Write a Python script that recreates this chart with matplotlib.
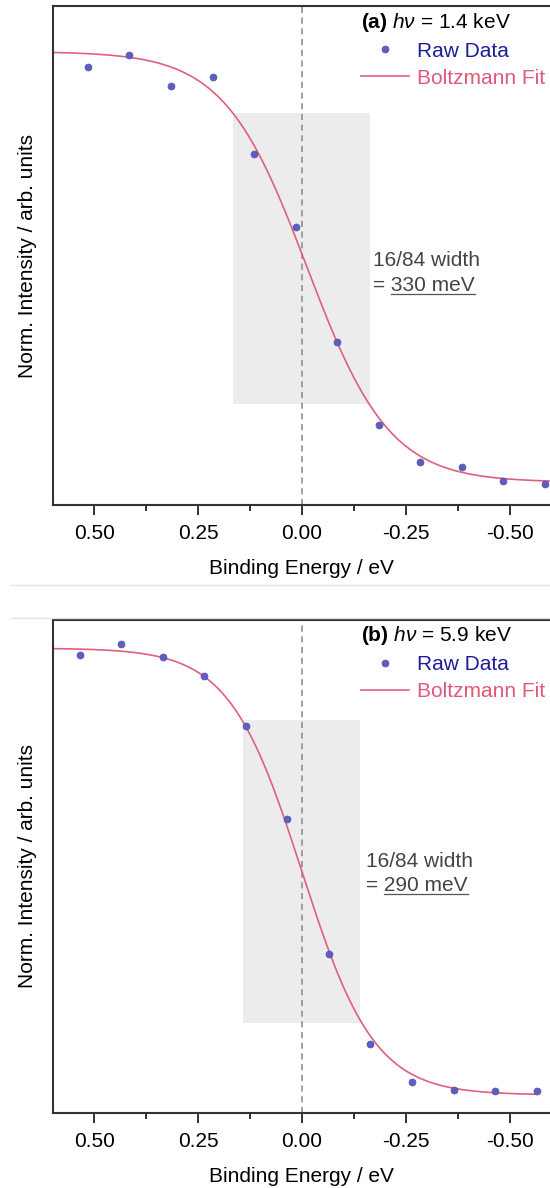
import numpy as np
import matplotlib
matplotlib.use('Agg')
import matplotlib.pyplot as plt
from matplotlib.lines import Line2D

plt.rcParams['font.family'] = ['Liberation Sans', 'DejaVu Sans']
plt.rcParams['mathtext.fontset'] = 'custom'
plt.rcParams['mathtext.rm'] = 'Liberation Sans'
plt.rcParams['mathtext.it'] = 'Liberation Sans:italic'
plt.rcParams['mathtext.bf'] = 'Liberation Sans:bold'

# panel (a): hv = 1.4 keV
energy_a = [0.515, 0.415, 0.315, 0.215, 0.115, 0.015, -0.085, -0.185, -0.285, -0.385, -0.485, -0.585]
intensity_a = [0.964, 0.992, 0.921, 0.942, 0.762, 0.592, 0.326, 0.133, 0.046, 0.036, 0.004, -0.005]
fit_a = [1.0, 0.0, -0.012, 0.0995]          # A1, A2, x0, dx
box_a = [0.165, -0.165, 0.182, 0.858]       # E left, E right, I bottom, I top
width_a = '330 meV'

# panel (b): hv = 5.9 keV
energy_b = [0.535, 0.435, 0.335, 0.235, 0.135, 0.035, -0.065, -0.165, -0.265, -0.365, -0.465, -0.565]
intensity_b = [0.984, 1.009, 0.980, 0.938, 0.826, 0.618, 0.315, 0.114, 0.029, 0.011, 0.009, 0.009]
fit_b = [1.0, 0.0, 0.0, 0.0874]
box_b = [0.142, -0.140, 0.162, 0.840]
width_b = '290 meV'

xticks = [0.50, 0.25, 0.00, -0.25, -0.50]
xtick_labels = ['0.50', '0.25', '0.00', '-0.25', '-0.50']

BLUE = '#5e5ec0'
RED = '#e0607c'
FS = 15


def boltzmann(e, a1, a2, x0, dx):
    return a2 + (a1 - a2) / (1 + np.exp((x0 - e) / dx))


def draw_panel(ax, energy, intensity, fit, box, e_end, title, width_txt, txt_pos, ylim):
    ax.fill_between([box[0], box[1]], box[2], box[3], color='#ececec', lw=0, zorder=0)
    ax.axvline(0, color='#888888', ls=(0, (4, 3)), lw=1.1, zorder=1)
    e = np.linspace(0.6, e_end, 400)
    line, = ax.plot(e, boltzmann(e, *fit), color=RED, lw=1.2, zorder=2)
    pts, = ax.plot(energy, intensity, 'o', ms=5.0, color=BLUE, mec='#5050b0', mew=0.5, zorder=3)

    ax.set_xlim(0.6, -0.6)
    ax.set_ylim(*ylim)
    ax.set_xticks(xticks)
    ax.set_xticklabels(xtick_labels)
    ax.set_xticks([0.375, 0.125, -0.125, -0.375], minor=True)
    ax.set_yticks([])
    ax.tick_params(axis='x', which='major', direction='out', length=7, width=1.4,
                   labelsize=FS, pad=6.5, color='#333333')
    ax.tick_params(axis='x', which='minor', direction='out', length=4, width=1.4, color='#333333')
    for s in ['left', 'top', 'bottom']:
        ax.spines[s].set_linewidth(1.5)
        ax.spines[s].set_color('#333333')
    ax.spines['right'].set_visible(False)

    ax.set_xlabel('Binding Energy / eV', fontsize=FS, labelpad=11.5)
    ax.set_ylabel('Norm. Intensity / arb. units', fontsize=FS)
    ax.yaxis.set_label_coords(-0.032, 0.5)

    ax.legend([pts, line], ['Raw Data', 'Boltzmann Fit'], title=title,
              loc='upper right', bbox_to_anchor=(0.9874, 0.991), frameon=False,
              fontsize=FS, title_fontsize=FS, alignment='left',
              handlelength=2.3, handletextpad=0.4, labelspacing=0.38,
              borderpad=0.0, borderaxespad=0.0,
              labelcolor=['#1c1c9c', '#e05a78'])

    ax.text(txt_pos[0], txt_pos[1], '16/84 width', fontsize=FS, color='#444444', va='baseline')
    t2 = ax.text(txt_pos[0], txt_pos[2], '= ' + width_txt, fontsize=FS, color='#444444', va='baseline')
    return t2


fig = plt.figure(figsize=(5.5, 11.88), dpi=100)
ax_a = fig.add_axes([0.0956, 0.5747, 0.9067, 0.420])
ax_b = fig.add_axes([0.0956, 0.0629, 0.9067, 0.4156])

t_a = draw_panel(ax_a, energy_a, intensity_a, fit_a, box_a, -0.6,
                 r'$\mathbf{(a)}$ $\mathit{h\nu}$ = 1.4 keV', width_a,
                 [-0.172, 0.501, 0.445], (-0.0534, 1.105))
t_b = draw_panel(ax_b, energy_b, intensity_b, fit_b, box_b, -0.565,
                 r'$\mathbf{(b)}$ $\mathit{h\nu}$ = 5.9 keV', width_b,
                 [-0.155, 0.510, 0.457], (-0.041, 1.064))

# thin separator lines between panels
for yy in [585.2, 617.5]:
    fig.add_artist(Line2D([10.5 / 550, 1.0], [1 - yy / 1188] * 2, transform=fig.transFigure,
                          color='#e4e4e4', lw=1.0))

# underline the width values
fig.canvas.draw()
renderer = fig.canvas.get_renderer()
for t, w in [(t_a, width_a), (t_b, width_b)]:
    full = t.get_window_extent(renderer)
    tmp = t.axes.text(0, 0, w, fontsize=FS)
    wpx = tmp.get_window_extent(renderer).width
    tmp.remove()
    base = t.axes.transData.transform(t.get_position())[1]
    fig.add_artist(Line2D([full.x1 - wpx, full.x1], [base - 3, base - 3], transform=None,
                          color='#555555', lw=0.9))

fig.savefig('out.png', dpi=100)
